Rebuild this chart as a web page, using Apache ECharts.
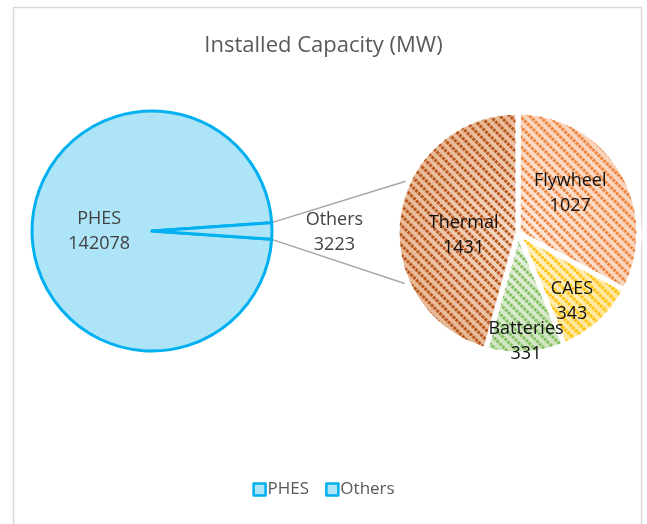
<!DOCTYPE html>
<html>
<head>
<meta charset="utf-8">
<script src="https://cdn.jsdelivr.net/npm/echarts@6/dist/echarts.min.js"></script>
<style>html,body{margin:0;padding:0;background:#fff}#c{width:647px;height:524px}</style>
</head>
<body>
<div id="c"></div>
<script>
// ---- data ----
const mainNames = ['PHES', 'Others'];
const mainValues = [142078, 3223];
const subNames = ['Flywheel', 'CAES', 'Batteries', 'Thermal'];
const subValues = [1027, 343, 331, 1431];
const titleText = 'Installed Capacity (MW)';

// ---- layout / style ----
const L = { cx: 152, cy: 231, r: 120 };
const R = { cx: 518, cy: 233, r: 121 };
const FONT = 'Open Sans';
const mainTotal = mainValues.reduce((a, b) => a + b, 0);
const othersAngle = mainValues[1] / mainTotal * 360;
const mainStart = -othersAngle / 2;
const subStart = 90;

const mainLabelFrac = [0.44, 1.52];
const mainLabelAdj = [0, -0.5];
const subLabelFrac = [0.54, 0.72, 0.9, 0.45];
const subLabelAdj = [6, -4, 0.7, 10.4];

function midAngles(values, start) {
  const tot = values.reduce((a, b) => a + b, 0);
  let cum = 0;
  return values.map(v => { const m = start - (cum + v / 2) / tot * 360; cum += v; return m; });
}
const mainMid = midAngles(mainValues, mainStart);
const subMid = midAngles(subValues, subStart);
function polar(c, rr, deg) {
  const a = deg * Math.PI / 180;
  return [c.cx + rr * Math.cos(a), c.cy - rr * Math.sin(a)];
}

const subStyles = [
  { bg: ['#FDEADF', '#F9D3BA'], stripe: '#EE8640' },
  { bg: ['#FFF4D2', '#FFE79A'], stripe: '#FFC410' },
  { bg: ['#E8F2E0', '#CFE5C0'], stripe: '#86C064' },
  { bg: ['#F6DDCB', '#E8B895'], stripe: '#B9581E' }
];

function grad(stops) {
  return { type: 'radial', x: R.cx, y: R.cy, r: R.r, global: true,
    colorStops: [{ offset: 0, color: stops[0] }, { offset: 1, color: stops[1] }] };
}

const mainData = mainNames.map((n, i) => ({ name: n, value: mainValues[i] }));
const subData = subNames.map((n, i) => ({
  name: n, value: subValues[i],
  itemStyle: {
    color: grad(subStyles[i].bg),
    decal: { symbol: 'rect', symbolSize: 1, color: subStyles[i].stripe,
      dashArrayX: [[3, 1]], dashArrayY: [3, 4], rotation: Math.PI / 4 }
  }
}));

// connector lines (from the Others slice edges to the secondary pie)
const lineA1 = polar(L, L.r, mainStart + othersAngle);
const lineA2 = polar(R, R.r + 2, 155);
const lineB1 = polar(L, L.r, mainStart);
const lineB2 = polar(R, R.r + 3, 204);

const chart = echarts.init(document.getElementById('c'));
chart.setOption({
  backgroundColor: '#fff',
  animation: false,
  title: { text: titleText, left: 'center', top: 30,
    textStyle: { fontFamily: FONT, fontSize: 22, fontWeight: 'normal', color: '#595959' } },
  legend: {
    data: mainNames, bottom: 21, left: 'center', icon: 'rect', itemWidth: 12, itemHeight: 12, itemGap: 16,
    textStyle: { fontFamily: FONT, fontSize: 17, color: '#595959', padding: [0, 0, 0, -3] },
    itemStyle: { color: '#AEE4F8', borderColor: '#00B0F0', borderWidth: 2.5 }
  },
  graphic: [
    { type: 'rect', shape: { x: 13.5, y: 7.5, width: 628, height: 530 }, style: { fill: 'none', stroke: '#D9D9D9', lineWidth: 1.5 }, z: -1 },
    { type: 'line', shape: { x1: lineA1[0], y1: lineA1[1], x2: lineA2[0], y2: lineA2[1] }, style: { stroke: '#A6A6A6', lineWidth: 1.5 }, z: 1 },
    { type: 'line', shape: { x1: lineB1[0], y1: lineB1[1], x2: lineB2[0], y2: lineB2[1] }, style: { stroke: '#A6A6A6', lineWidth: 1.5 }, z: 1 }
  ],
  series: [
    {
      type: 'pie', center: [L.cx, L.cy], radius: [0, L.r], startAngle: mainStart, clockwise: true,
      data: mainData, z: 3,
      itemStyle: { color: '#AEE4F8', borderColor: '#00B0F0', borderWidth: 3, borderJoin: 'round' },
      label: { show: true, formatter: '{b}\n{c}', fontFamily: FONT, fontSize: 18, color: '#404040', lineHeight: 25, position: 'inside' },
      labelLine: { show: false },
      emphasis: { disabled: true },
      labelLayout: p => { const pt = polar(L, L.r * mainLabelFrac[p.dataIndex], mainMid[p.dataIndex] + mainLabelAdj[p.dataIndex]);
        return { x: pt[0], y: pt[1], align: 'center', verticalAlign: 'middle' }; }
    },
    {
      type: 'pie', center: [R.cx, R.cy], radius: [0, R.r], startAngle: subStart, clockwise: true,
      data: subData, z: 3,
      itemStyle: { borderColor: '#fff', borderWidth: 5 },
      label: { show: true, formatter: '{b}\n{c}', fontFamily: FONT, fontSize: 18, color: '#111', lineHeight: 25, position: 'inside' },
      labelLine: { show: false },
      emphasis: { disabled: true },
      labelLayout: p => { const pt = polar(R, R.r * subLabelFrac[p.dataIndex], subMid[p.dataIndex] + subLabelAdj[p.dataIndex]);
        return { x: pt[0], y: pt[1], align: 'center', verticalAlign: 'middle' }; }
    }
  ]
});
</script>
</body>
</html>
